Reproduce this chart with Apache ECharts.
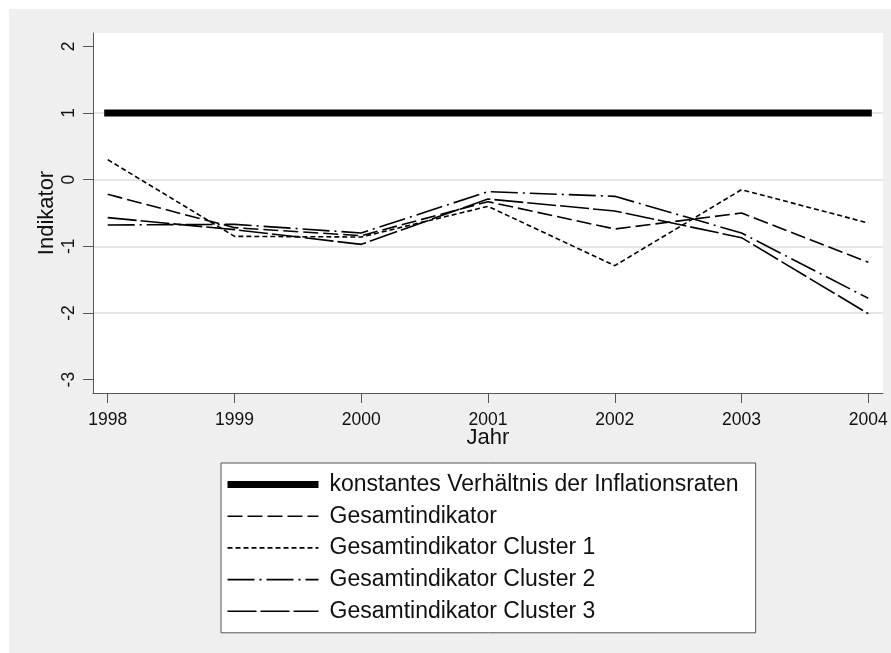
<!DOCTYPE html>
<html>
<head>
<meta charset="utf-8">
<script src="https://cdn.jsdelivr.net/npm/echarts@6/dist/echarts.min.js"></script>
<style>
  html, body { margin: 0; padding: 0; background: #ffffff; }
  #bg { position: absolute; left: 9px; top: 9px; width: 882px; height: 644px; background: #efefef; }
  #chart { position: absolute; left: 0; top: 0; width: 891px; height: 653px; }
</style>
</head>
<body>
<div id="bg"></div>
<div id="chart"></div>
<script>
// Jahre und Indikatorwerte
const years = [1998, 1999, 2000, 2001, 2002, 2003, 2004];
const yTicks = [-3, -2, -1, 0, 1, 2];
const konstant = [1, 1, 1, 1, 1, 1, 1];
const gesamt = [-0.22, -0.72, -0.84, -0.33, -0.74, -0.50, -1.24];
const cluster1 = [0.30, -0.85, -0.86, -0.40, -1.29, -0.15, -0.65];
const cluster2 = [-0.68, -0.67, -0.80, -0.18, -0.25, -0.80, -1.78];
const cluster3 = [-0.57, -0.75, -0.97, -0.29, -0.47, -0.87, -2.01];

const names = [
  'konstantes Verhältnis der Inflationsraten',
  'Gesamtindikator',
  'Gesamtindikator Cluster 1',
  'Gesamtindikator Cluster 2',
  'Gesamtindikator Cluster 3'
];
const widths = [7, 1.6, 1.6, 1.6, 1.6];
const dashes = ['solid', [15, 5], [5, 3], [27, 5, 2, 5], [29, 4]];

const font = "'Liberation Sans', Arial, sans-serif";
const pairs = vals => years.map((y, i) => [y, vals[i]]);

function lineSeries(i, vals) {
  return {
    name: names[i],
    type: 'line',
    data: pairs(vals),
    symbol: 'none',
    itemStyle: { color: '#000' },
    lineStyle: { color: '#000', width: widths[i], type: dashes[i], cap: i === 0 ? 'square' : 'butt' },
    emphasis: { disabled: true }
  };
}

const chart = echarts.init(document.getElementById('chart'));

const option = {
  animation: false,
  textStyle: { fontFamily: font },
  grid: {
    left: 93, top: 33, width: 790, height: 360,
    show: true, backgroundColor: '#ffffff', borderWidth: 0
  },
  legend: {
    data: names.map((n, i) => ({
      name: n,
      itemStyle: { opacity: 0 },
      lineStyle: { width: widths[i], type: dashes[i], color: '#000', cap: 'butt' }
    })),
    orient: 'vertical',
    left: 221, top: 463,
    itemWidth: 91, itemHeight: 14, itemGap: 8.7,
    padding: [10, 17, 10, 3],
    backgroundColor: '#ffffff',
    borderColor: '#555',
    borderWidth: 1,
    selectedMode: false,
    itemStyle: { opacity: 0 },
    textStyle: { fontSize: 23, color: '#111', fontFamily: font, padding: [0, 0, 0, 6] }
  },
  xAxis: {
    type: 'value',
    min: 1997.884, max: 2004.116,
    name: 'Jahr', nameLocation: 'middle', nameGap: 34, nameMoveOverlap: false,
    nameTextStyle: { fontSize: 22, color: '#111', fontFamily: font },
    axisLine: { show: true, onZero: false, lineStyle: { color: '#555', width: 1 } },
    axisTick: { show: true, length: 10, customValues: years, lineStyle: { color: '#555' } },
    axisLabel: { customValues: years, formatter: v => String(v), fontSize: 17.5, color: '#111', margin: 18 },
    splitLine: { show: false }
  },
  yAxis: {
    type: 'value',
    min: -3.2, max: 2.2,
    name: 'Indikator', nameLocation: 'middle', nameGap: 35, nameRotate: 90, nameMoveOverlap: false,
    nameTextStyle: { fontSize: 22, color: '#111', fontFamily: font },
    axisLine: { show: true, onZero: false, lineStyle: { color: '#555', width: 1 } },
    axisTick: { show: true, length: 10, customValues: yTicks, lineStyle: { color: '#555' } },
    axisLabel: { customValues: yTicks, rotate: 90, fontSize: 17.5, color: '#111', margin: 15 },
    splitLine: {
      show: true,
      lineStyle: { color: ['transparent', '#e6e6e6', '#e6e6e6', '#e6e6e6', '#e6e6e6', 'transparent'], width: 2 }
    }
  },
  series: [
    lineSeries(0, konstant),
    lineSeries(1, gesamt),
    lineSeries(2, cluster1),
    lineSeries(3, cluster2),
    lineSeries(4, cluster3)
  ]
};

chart.setOption(option);
</script>
</body>
</html>
